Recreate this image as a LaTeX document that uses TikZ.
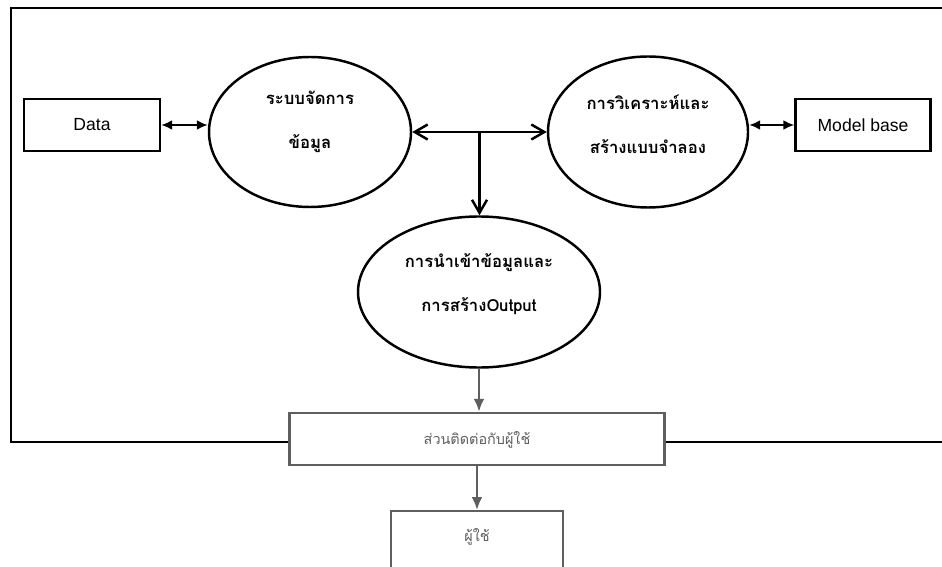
\documentclass[tikz,border=0pt]{standalone}
\usepackage{fontspec}
\setmainfont{Liberation Sans}
\newfontfamily\thaifont[Script=Thai]{Loma}
\usetikzlibrary{arrows.meta,calc,shapes.geometric}
\definecolor{uigray}{RGB}{95,95,95}
\newcommand{\pix}{0.02cm}
\tikzset{
  proc/.style={draw, ellipse, line width=1.4pt, inner sep=0pt},
  store/.style={draw, rectangle, line width=1.4pt, minimum height=52*\pix,
    font=\fontsize{10pt}{12pt}\selectfont},
  uibox/.style={draw=uigray, fill=white, rectangle, line width=1.4pt, minimum height=52*\pix},
  thaitxt/.style={align=center, font=\thaifont\fontsize{9.5pt}{25pt}\selectfont\bfseries},
  uitxt/.style={text=uigray, font=\thaifont\fontsize{8.2pt}{10pt}\selectfont},
  dflow/.style={line width=1.2pt, {Latex[length=2.2mm,width=2mm]}-{Latex[length=2.2mm,width=2mm]}},
  cflow/.style={line width=1.4pt, >={Straight Barb[length=2.6mm,width=3mm]}},
  uflow/.style={draw=uigray, line width=1.4pt, -{Latex[length=2.6mm,width=2.2mm]}}
}
\begin{document}
\begin{tikzpicture}[x=\pix, y=-\pix]
\useasboundingbox (0,0) rectangle (942,567);
% frame
\draw[line width=1.2pt] (942,8) -- (11,8) -- (11,442) -- (942,442);

\node (data) [store, minimum width=136*\pix] at (92,125) {Data};
\node (ell1) [proc, minimum width=202*\pix, minimum height=150*\pix] at (310,132) {};
\node (ell1txt) [thaitxt] at (310,122) {ระบบจัดการ\\ข้อมูล};
\node (ell2) [proc, minimum width=200*\pix, minimum height=151*\pix] at (648,132) {};
\node (ell2txt) [thaitxt] at (648,124) {การวิเคราะห์และ\\สร้างแบบจำลอง};
\node (model) [store, minimum width=135*\pix] at (863,125) {Model base};
\node (ell3) [proc, minimum width=242*\pix, minimum height=151*\pix] at (479,292) {};
\node (ell3txt) [thaitxt] at (479,284) {การนำเข้าข้อมูลและ\\การสร้างOutput};
\node (iface) [uibox, minimum width=375*\pix] at (477,439) {};
\node (ifacetxt) [uitxt] at (477,440) {ส่วนติดต่อกับผู้ใช้};
\node (user) [uibox, anchor=north, minimum width=172*\pix, minimum height=100*\pix] at (477,510) {};
\node (usertxt) [uitxt] at ($(user.north)+(0,27)$) {ผู้ใช้};

\coordinate (mid) at ($(ell1.east)!0.5!(ell2.west)$);
\draw[dflow] (data.east) -- (data.east -| ell1.west);
\draw[dflow] (model.west -| ell2.east) -- (model.west);
\draw[cflow, <->] (ell1.east) -- (ell2.west);
\draw[cflow, ->] (mid) -- (mid |- ell3.north);
\draw[uflow] (ell3.south) -- (ell3.south |- iface.north);
\draw[uflow] (iface.south) -- (user.north);
\end{tikzpicture}
\end{document}
